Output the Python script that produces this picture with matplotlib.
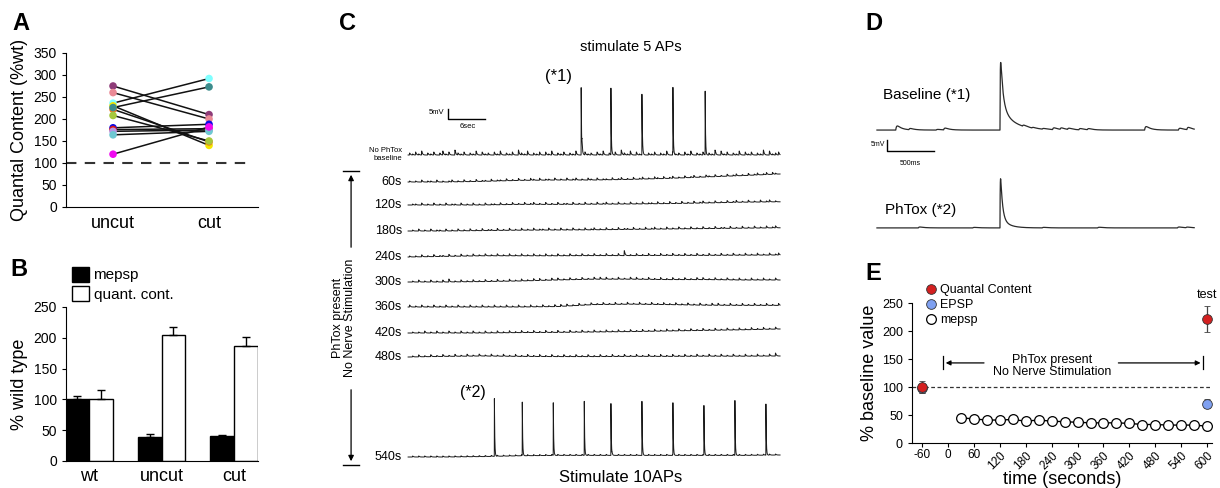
import numpy as np
import matplotlib.pyplot as plt
from matplotlib.patches import Patch
from matplotlib.lines import Line2D

plt.rcParams['font.family'] = ['Liberation Sans', 'DejaVu Sans']

W, H = 1220, 488

# ---------------- data ----------------
# A: quantal content, paired uncut / cut
a_groups = ['uncut', 'cut']
a_uncut = [275, 260, 236, 230, 222, 208, 226, 180, 176, 172, 164, 120]
a_cut = [210, 200, 292, 140, 148, 150, 273, 188, 178, 175, 172, 182]
a_colors = ['#8E3B78', '#EA8A96', '#80FFFF', '#F2E600', '#F0781E', '#A5C83C',
            '#3C8C8C', '#0A0AE6', '#DC1414', '#B496E6', '#6EC8D2', '#F00AF0']

# B: % wild type
b_groups = ['wt', 'uncut', 'cut']
b_mepsp = [100, 39, 40]
b_mepsp_err = [5, 5, 3]
b_quant = [100, 205, 187]
b_quant_err = [15, 13, 15]

# C: 60 s recordings, drift (mV, every 6 s), minis (amplitude code every 0.5 s), evoked spikes
c_labels = ['No PhTox\nbaseline', '60s', '120s', '180s', '240s', '300s', '360s', '420s', '480s', '540s']
c_drift = [
    [0, 0, 0, 0, 0, 0, 0, 0, 0, 0, 0],
    [0, 0, 0.3, 0.8, 1.0, 1.0, 1.3, 1.8, 2.5, 3.2, 4.0],
    [0, 0, 0, 0.3, 0.3, 0.4, 0.5, 0.7, 1.0, 1.4, 1.6],
    [0, 0, 0.2, 0.4, 0.5, 0.6, 0.8, 1.0, 1.2, 1.4, 1.6],
    [0, 0.3, 0.6, 0.6, 0.6, 0.7, 0.7, 0.8, 0.8, 0.9, 1.0],
    [0, 0, 0.2, 0.5, 1.0, 1.4, 1.4, 1.2, 1.2, 1.0, 1.0],
    [0, 0, 0, 0, 0.2, 1.2, 1.4, 1.2, 0.9, 0.8, 0.8],
    [0, 0, 0, 0.2, 0.3, 0.5, 0.7, 1.0, 1.3, 1.6, 2.0],
    [0, 0.3, 0.5, 0.3, 0.2, 0.2, 0.3, 0.3, 0.4, 0.4, 0.5],
    [0, 0, 0.2, 0.6, 0.8, 0.8, 0.8, 0.8, 0.8, 0.8, 1.0],
]
c_minis = [
    "213140213024130521302140312031402130521402130314021302140631203140213052140314021302140312031402130215041302140313021504123",
    "101020110201012010201020110201102010201021020110201020120102102011020120102012010210201201020120102102010201201020120120210",
    "011020102010201102010201020110201020102012010201020110201020102012010201020102011020102010201020120102010201201020102012010",
    "010201020110201020102010201102010201020102011020102010201020120102010201102010201201020102010201020102011020102010201020120",
    "101020102011020102010201020102010201020102010201020102010201020102010205010201020102010201020102010201020102010201020102012",
    "010201020102030102010201020102010201020102020102020102010201020202010201020201020102010201020102020102010201020102010201020",
    "201020102010201020102010201020102010201020102010202020102010201020102010201020102010201020102010201020201020102010201020102",
    "010102010201020102010201020102010201020102010201020102010201020102010201020102010201020102010201020102010201020102010201020",
    "010201020102010201020102010201020102010201020102010201020102010201020102010201020102010201020102010201020102010201020102030",
    "010101010101010101010101010101010101010101010101010101010101010101010101010101010101010101010101010101010101010101010101010",
]
c_spike5_t = [27.9, 32.7, 37.7, 42.7, 47.9]
c_spike5_h = [45.5, 45, 41, 44, 43]
c_spike10_t = [13.9, 18.4, 23.4, 28.4, 32.7, 37.7, 42.7, 47.7, 52.7, 57.7]
c_spike10_h = [39, 36, 35.5, 36.5, 35, 36.5, 35, 33.5, 37, 34.5]

# D: single evoked responses (s, mV)
d_spike_t = 1.31
d_base_amp = 42
d_phtox_amp = 33.6
d_base_minis_t = [0.20, 0.34, 0.63, 0.71, 1.55, 1.65, 1.76, 1.87, 1.95, 2.03, 2.15, 2.24, 2.85, 3.21, 3.30]
d_base_minis_a = [3.2, 1.0, 0.5, 1.4, 1.0, 0.6, 0.6, 1.4, 1.2, 1.0, 1.0, 0.9, 2.7, 1.4, 1.8]
d_ph_minis_t = [0.44, 1.02, 1.76, 2.35, 3.20, 3.29]
d_ph_minis_a = [0.7, 0.4, 0.4, 0.5, 0.7, 0.5]

# E: time course
e_time = [30, 60, 90, 120, 150, 180, 210, 240, 270, 300, 330, 360, 390, 420, 450, 480, 510, 540, 570, 600]
e_mepsp = [45, 43, 41, 41, 42, 39, 41, 39, 38, 37, 36, 36, 36, 35, 33, 33, 32, 32, 32, 30]
e_qc_t = [-60, 600]
e_qc = [100, 222]
e_qc_err = [10, 23]
e_epsp_t = [-60, 600]
e_epsp = [98, 70]
e_epsp_err = [8, 8]
e_ticks = [-60, 0, 60, 120, 180, 240, 300, 360, 420, 480, 540, 600]


def px_axes(l, t, r, b):
    return fig.add_axes([l / W, 1 - b / H, (r - l) / W, (b - t) / H])


def events(t, times, amps, tau, rise):
    y = np.zeros_like(t)
    for t0, a in zip(times, amps):
        d = t - t0
        m = d >= 0
        y[m] += a * np.exp(-d[m] / tau) * (1 - np.exp(-d[m] / rise))
    return y


fig = plt.figure(figsize=(W / 100, H / 100), dpi=100)

for letter, x, y in [('A', 12, 12), ('B', 10, 258), ('C', 339, 12), ('D', 865, 12), ('E', 865, 262)]:
    fig.text(x / W, 1 - y / H, letter, fontsize=17, fontweight='bold', va='top', ha='left')

# ---------------- A ----------------
axA = px_axes(66, 53, 258, 207)
axA.axhline(100, xmin=0, xmax=0.96, color='#333333', lw=1.5, ls=(0, (5, 4)))
for u, c, col in zip(a_uncut, a_cut, a_colors):
    axA.plot([0, 1], [u, c], color='#111111', lw=1.1, zorder=2)
for u, c, col in zip(a_uncut, a_cut, a_colors):
    axA.scatter([0, 1], [u, c], s=30, color=col, edgecolors='none', zorder=3)
axA.set_xlim(-0.49, 1.51)
axA.set_ylim(0, 350)
axA.set_yticks(range(0, 351, 50))
axA.set_xticks([0, 1])
axA.set_xticklabels(a_groups, fontsize=13)
axA.tick_params(axis='x', length=0, pad=6)
axA.tick_params(axis='y', labelsize=10, length=3)
axA.set_ylabel('Quantal Content (%wt)', fontsize=13, labelpad=4)
for s in ['top', 'right']:
    axA.spines[s].set_visible(False)

# ---------------- B ----------------
axB = px_axes(66, 307, 258, 461)
xb = np.arange(len(b_groups))
bw = 0.33
axB.bar(xb - bw / 2, b_mepsp, bw, color='black', edgecolor='black', lw=1,
        yerr=[[0] * 3, b_mepsp_err], error_kw=dict(capsize=3, lw=1, capthick=1))
axB.bar(xb + bw / 2, b_quant, bw, color='white', edgecolor='black', lw=1,
        yerr=[[0] * 3, b_quant_err], error_kw=dict(capsize=3, lw=1, capthick=1))
axB.set_xlim(-0.317, 2.33)
axB.set_ylim(0, 250)
axB.set_yticks(range(0, 251, 50))
axB.set_xticks(xb)
axB.set_xticklabels(b_groups, fontsize=13)
axB.tick_params(axis='x', length=0, pad=5)
axB.tick_params(axis='y', labelsize=10, length=3)
axB.set_ylabel('% wild type', fontsize=13, labelpad=4)
for s in ['top', 'right']:
    axB.spines[s].set_visible(False)
axB.legend([Patch(facecolor='black', edgecolor='black'), Patch(facecolor='white', edgecolor='black')],
           ['mepsp', 'quant. cont.'], loc='upper left', bbox_to_anchor=(0.0, 1.3),
           frameon=False, fontsize=11, handlelength=1.1, handleheight=1.1,
           labelspacing=0.25, handletextpad=0.3, borderaxespad=0)

# ---------------- C ----------------
axC = px_axes(330, 30, 790, 488)
axC.set_xlim(-12.6, 61.6)
axC.set_ylim(0, 229)
axC.axis('off')
c_offsets = [166.5, 153, 141.5, 128.5, 115.5, 103, 90.5, 77.5, 65.5, 15.5]
tc = np.arange(0, 60, 0.005)
for i, (lab, off) in enumerate(zip(c_labels, c_offsets)):
    drift = np.interp(tc, np.linspace(0, 60, len(c_drift[i])), c_drift[i])
    codes = [int(ch) for ch in c_minis[i]]
    dt = 60 / len(codes)
    times = [k * dt + 0.2 for k in range(len(codes))]
    amps = [0.8 * a for a in codes]
    y = off + drift + events(tc, times, amps, 0.12, 0.02)
    if i == 0:
        y += events(tc, c_spike5_t, c_spike5_h, 0.06, 0.005)
    if i == len(c_labels) - 1:
        y += events(tc, c_spike10_t, c_spike10_h, 0.06, 0.005)
    axC.plot(tc, y, color='#1a1a1a', lw=0.7)
    if i == 0:
        axC.text(-1.0, off, lab, fontsize=5.5, ha='right', va='center', linespacing=1.2)
    else:
        axC.text(-1.0, off, lab, fontsize=9, ha='right', va='center')

axC.text(36, 220.5, 'stimulate 5 APs', fontsize=10.5, ha='center', va='center')
axC.text(24.2, 206, '(*1)', fontsize=12, ha='center', va='center')
axC.text(10.5, 47.5, '(*2)', fontsize=11.5, ha='center', va='center')
axC.text(34.2, 5.5, 'Stimulate 10APs', fontsize=12, ha='center', va='center')
# scale bar
axC.plot([6.45, 6.45, 12.45], [189.5, 184.5, 184.5], color='black', lw=1)
axC.text(5.8, 187.5, '5mV', fontsize=5.5, ha='right', va='center')
axC.text(9.6, 180.5, '6sec', fontsize=5.5, ha='center', va='center')
# PhTox period marker
xa = -9.2
axC.plot([xa - 1.3, xa + 1.3], [158.5, 158.5], color='black', lw=1)
axC.plot([xa - 1.3, xa + 1.3], [11.5, 11.5], color='black', lw=1)
axC.annotate('', xy=(xa, 158), xytext=(xa, 119),
             arrowprops=dict(arrowstyle='-|>', color='black', lw=0.9, mutation_scale=8))
axC.annotate('', xy=(xa, 12), xytext=(xa, 50.5),
             arrowprops=dict(arrowstyle='-|>', color='black', lw=0.9, mutation_scale=8))
axC.text(xa - 1.2, 85, 'PhTox present\nNo Nerve Stimulation', rotation=90,
         fontsize=9, ha='center', va='center', linespacing=1.0)

# ---------------- D ----------------
axD = px_axes(870, 30, 1200, 240)
axD.set_xlim(-0.074, 3.44)
axD.set_ylim(0, 95.5)
axD.axis('off')
td = np.arange(0, 3.38, 0.002)
dd = np.clip(td - d_spike_t, 0, None)
on = (td >= d_spike_t) * (1 - np.exp(-dd / 0.003))
epsp_b = d_base_amp * (0.72 * np.exp(-dd / 0.025) + 0.28 * np.exp(-dd / 0.13)) * on
epsp_p = d_phtox_amp * (0.85 * np.exp(-dd / 0.02) + 0.15 * np.exp(-dd / 0.08)) * on
yb = 50 + epsp_b + events(td, d_base_minis_t, d_base_minis_a, 0.05, 0.01)
yp = 5.5 + epsp_p + events(td, d_ph_minis_t, d_ph_minis_a, 0.05, 0.01)
axD.plot(td, yb, color='#2a2a2a', lw=0.9)
axD.plot(td, yp, color='#2a2a2a', lw=0.9)
axD.text(0.06, 66, 'Baseline (*1)', fontsize=11, ha='left', va='center')
axD.text(0.09, 13.6, 'PhTox (*2)', fontsize=11, ha='left', va='center')
axD.plot([0.106, 0.106, 0.606], [45.5, 40.5, 40.5], color='black', lw=1)
axD.text(0.09, 43.5, '5mV', fontsize=5, ha='right', va='center')
axD.text(0.36, 35, '500ms', fontsize=5, ha='center', va='center')

# ---------------- E ----------------
axE = px_axes(912, 303, 1212, 443)
axE.axhline(100, color='#333333', lw=0.9, ls=(0, (3, 2)), zorder=1)
axE.plot(e_time, e_mepsp, color='black', lw=1, zorder=2)
axE.plot(e_time, e_mepsp, 'o', ms=7, mfc='white', mec='black', mew=0.9, zorder=3)
axE.errorbar(e_epsp_t, e_epsp, yerr=e_epsp_err, fmt='o', ms=7, mfc='#7FA0F0', mec='#333333',
             mew=0.6, ecolor='#444444', elinewidth=0.9, capsize=2, zorder=4)
axE.errorbar(e_qc_t, e_qc, yerr=e_qc_err, fmt='o', ms=7, mfc='#D42020', mec='#333333',
             mew=0.6, ecolor='#444444', elinewidth=0.9, capsize=2, zorder=5)
axE.set_xlim(-83, 611)
axE.set_ylim(0, 250)
axE.set_yticks(range(0, 251, 50))
axE.set_xticks(e_ticks)
axE.set_xticklabels([str(v) for v in e_ticks], fontsize=8.5)
for k, lab in enumerate(axE.get_xticklabels()):
    if k >= 3:
        lab.set_rotation(45)
        lab.set_ha('right')
        lab.set_rotation_mode('anchor')
axE.tick_params(axis='y', labelsize=9, length=3)
axE.tick_params(axis='x', length=3, pad=1.5)
axE.set_ylabel('% baseline value', fontsize=13, labelpad=3)
axE.set_xlabel('time (seconds)', fontsize=13, labelpad=0)
axE.xaxis.set_label_coords(0.5, -0.2)
for s in ['top', 'right']:
    axE.spines[s].set_visible(False)
# PhTox annotation
axE.plot([-11.5, -11.5], [132, 155], color='black', lw=0.9)
axE.plot([591, 591], [132, 155], color='black', lw=0.9)
axE.annotate('', xy=(-11.5, 143), xytext=(90, 143),
             arrowprops=dict(arrowstyle='-|>', color='black', lw=0.9, mutation_scale=7))
axE.annotate('', xy=(591, 143), xytext=(388, 143),
             arrowprops=dict(arrowstyle='-|>', color='black', lw=0.9, mutation_scale=7))
axE.text(242, 138, 'PhTox present\nNo Nerve Stimulation', fontsize=9, ha='center', va='center',
         linespacing=1.0)
axE.text(600, 264, 'test', fontsize=9, ha='center', va='center', clip_on=False)
handles = [Line2D([], [], marker='o', ls='none', ms=7, mfc='#D42020', mec='#333333', mew=0.6),
           Line2D([], [], marker='o', ls='none', ms=7, mfc='#7FA0F0', mec='#333333', mew=0.6),
           Line2D([], [], marker='o', ls='none', ms=7, mfc='white', mec='black', mew=0.9)]
axE.legend(handles, ['Quantal Content', 'EPSP', 'mepsp'], loc='upper left',
           bbox_to_anchor=(0.03, 1.17), frameon=False, fontsize=9, handlelength=0.8,
           handletextpad=0.3, labelspacing=0.25, borderaxespad=0)

fig.savefig('out.png', dpi=100)
